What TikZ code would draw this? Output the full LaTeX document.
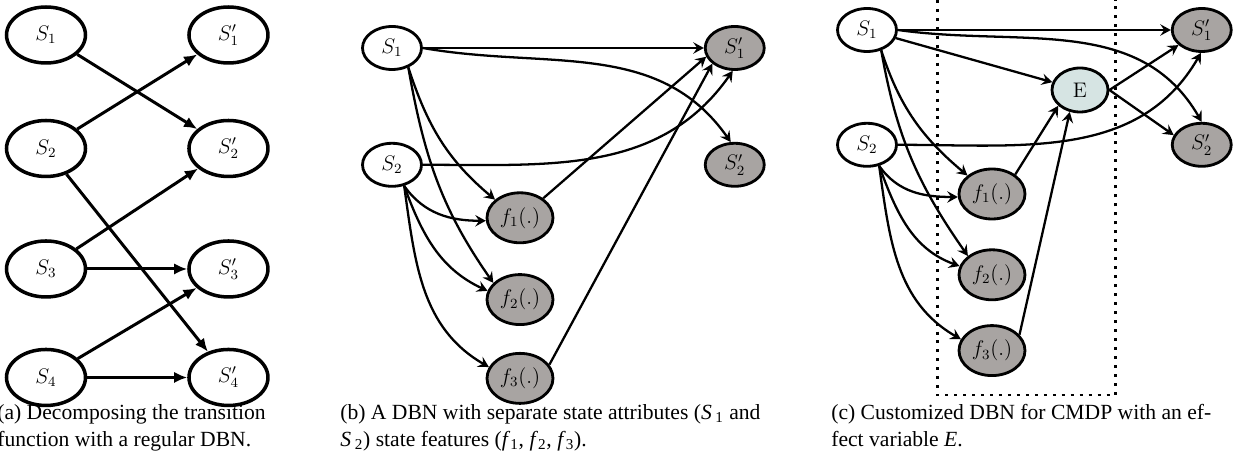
\documentclass[tikz,border=0pt]{standalone}
\usepackage[no-math]{fontspec}
\newfontfamily\capfont{Liberation Serif}
\usepackage{tikz}
\usetikzlibrary{arrows.meta, shapes.geometric, positioning, calc}

\definecolor{nodegrey}{RGB}{168,164,162}
\definecolor{effblue}{RGB}{214,228,227}

\begin{document}
\begin{tikzpicture}[x=0.02cm, y=0.02cm,
  big/.style={draw, ellipse, line width=2pt, minimum width=1.58cm, minimum height=1.12cm,
              inner sep=0pt, font=\fontsize{12}{14}\selectfont},
  var/.style={draw, ellipse, line width=1.6pt, minimum width=1.18cm, minimum height=0.86cm,
              inner sep=0pt, font=\fontsize{12}{14}\selectfont},
  nxt/.style={var, fill=nodegrey},
  feat/.style={var, fill=nodegrey, minimum width=1.32cm, minimum height=1.0cm},
  eff/.style={var, fill=effblue, minimum width=1.12cm, minimum height=0.88cm},
  edgea/.style={-{Latex[length=7.5pt,width=6.5pt]}, line width=1.7pt},
  edge/.style={-{Stealth[length=6pt,width=6.5pt,inset=2.2pt]}, line width=1.3pt},
  dotbox/.style={line width=1.7pt, dash pattern=on 1.7pt off 3.4pt},
  subcap/.style={font=\capfont\fontsize{12.3}{15.5}\selectfont, align=left, inner sep=0pt,
              anchor=north west}]
  \useasboundingbox (0,0) rectangle (1252,-462);

  % (a) regular DBN
  \node[big] (as1) at (46,-35) {$S_1$};
  \node[big, below=1.08cm of as1] (as2) {$S_2$};
  \node[big, below=1.22cm of as2] (as3) {$S_3$};
  \node[big, below=0.98cm of as3] (as4) {$S_4$};
  \node[big, right=2cm of as1] (as1p) {$S'_1$};
  \node[big, right=2cm of as2] (as2p) {$S'_2$};
  \node[big, right=2cm of as3] (as3p) {$S'_3$};
  \node[big, right=2cm of as4] (as4p) {$S'_4$};

  \draw[edgea] (as1) -- (as2p);
  \draw[edgea] (as2) -- (as1p);
  \draw[edgea] (as2) -- (as4p);
  \draw[edgea] (as3) -- (as2p);
  \draw[edgea] (as3) -- (as3p);
  \draw[edgea] (as4) -- (as3p);
  \draw[edgea] (as4) -- (as4p);

  % (b) state attributes and features
  \node[var] (bs1) at (392,-48) {$S_1$};
  \node[var, below=1.42cm of bs1] (bs2) {$S_2$};
  \node[nxt, right=5.62cm of bs1] (bs1p) {$S'_1$};
  \node[nxt, right=5.62cm of bs2] (bs2p) {$S'_2$};
  \node[feat] (bf1) at ($(bs2)+(128,-53)$) {$f_1(.)$};
  \node[feat, below=0.58cm of bf1] (bf2) {$f_2(.)$};
  \node[feat, below=0.52cm of bf2] (bf3) {$f_3(.)$};

  \draw[edge] (bs1) -- (bs1p);
  \draw[edge] (bs1.east) to[out=-10,in=125] (bs2p.100);
  \draw[edge] (bs1.-50) to[out=-72,in=140] (bf1.144);
  \draw[edge] (bs1.-50) to[out=-80,in=125] (bf2.148);
  \draw[edge] (bs2.east) to[out=0,in=235] (bs1p.265);
  \draw[edge] (bs2.-60) to[out=-55,in=180] (bf1.185);
  \draw[edge] (bs2.-60) to[out=-70,in=155] (bf2.165);
  \draw[edge] (bs2.-60) to[out=-82,in=150] (bf3.160);
  \draw[edge] (bf1.40) -- (bs1p.197);
  \draw[edge] (bf3.25) -- (bs1p.215);

  % (c) effect variable
  \draw[dotbox] (937,0) -- (937,-395) -- (1115,-395) -- (1115,0);
  \node[var] (cs1) at (867,-30) {$S_1$};
  \node[var, below=1.38cm of cs1] (cs2) {$S_2$};
  \node[nxt, right=5.46cm of cs1] (cs1p) {$S'_1$};
  \node[nxt, right=5.46cm of cs2] (cs2p) {$S'_2$};
  \node[eff] (ce) at (1080,-90) {E};
  \node[feat] (cf1) at (992,-194) {$f_1(.)$};
  \node[feat, below=0.56cm of cf1] (cf2) {$f_2(.)$};
  \node[feat, below=0.46cm of cf2] (cf3) {$f_3(.)$};

  \draw[edge] (cs1) -- (cs1p);
  \draw[edge] (cs1.east) to[out=-8,in=120] (cs2p.north);
  \draw[edge] (cs1) -- (ce);
  \draw[edge] (cs1.-55) to[out=-72,in=140] (cf1.143);
  \draw[edge] (cs1.-55) to[out=-80,in=125] (cf2.142);
  \draw[edge] (cs2.east) to[out=0,in=240] (cs1p.268);
  \draw[edge] (cs2.-60) to[out=-55,in=180] (cf1.185);
  \draw[edge] (cs2.-60) to[out=-70,in=160] (cf2.165);
  \draw[edge] (cs2.-60) to[out=-82,in=150] (cf3.160);
  \draw[edge] (cf1.40) -- (ce.216);
  \draw[edge] (cf3.30) -- (ce.245);
  \draw[edge] (ce.east) -- (cs1p.213);
  \draw[edge] (ce.east) -- (cs2p.161);

  % captions
  \node[subcap] (capa) at (-3,-404) {(a) Decomposing the transition\\function with a regular DBN.};
  \node[subcap] (capb) at (340,-404) {(b) A DBN with separate state attributes (\textit{S}\,\textsubscript{1} and\\\textit{S}\,\textsubscript{2}) state features (\textit{f}\textsubscript{1}, \textit{f}\textsubscript{2}, \textit{f}\textsubscript{3}).};
  \node[subcap] (capc) at (831,-404) {(c) Customized DBN for CMDP with an ef-\\fect variable \textit{E}.};
\end{tikzpicture}
\end{document}
